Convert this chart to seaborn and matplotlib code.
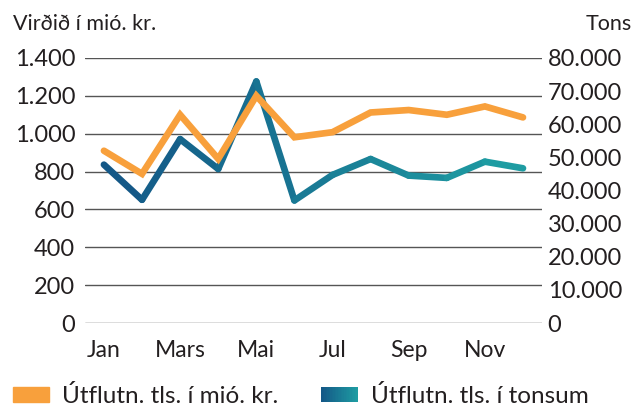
import numpy as np
import pandas as pd
import matplotlib
matplotlib.use("Agg")
import matplotlib.pyplot as plt
import seaborn as sns
from matplotlib.collections import LineCollection
from matplotlib.colors import LinearSegmentedColormap
from matplotlib.patches import Patch, Rectangle
from matplotlib.legend_handler import HandlerBase

# --- gögn ---
months = ["Jan", "Feb", "Mars", "Apr", "Mai", "Jún", "Jul", "Ágú", "Sep", "Okt", "Nov", "Des"]
value_mkr = [910, 788, 1100, 867, 1200, 981, 1008, 1112, 1125, 1100, 1144, 1086]
tons = [47800, 37200, 55500, 46500, 72900, 37000, 44700, 49500, 44500, 43800, 48700, 46700]
left_ticks = [0, 200, 400, 600, 800, 1000, 1200, 1400]
right_ticks = [0, 10000, 20000, 30000, 40000, 50000, 60000, 70000, 80000]
shown_months = ["Jan", "Mars", "Mai", "Jul", "Sep", "Nov"]

ORANGE = "#F8A03C"
BLUE_START = "#145887"
BLUE_END = "#1E9CA2"
TEXT = "#231F20"

sns.set_theme(style="white")
plt.rcParams["font.family"] = ["Lato", "DejaVu Sans"]

cmap = LinearSegmentedColormap.from_list("bl", [BLUE_START, BLUE_END])


class GradientHandler(HandlerBase):
    # litastigi í reit skýringar
    def create_artists(self, legend, orig_handle, xdescent, ydescent,
                       width, height, fontsize, trans):
        n = 24
        out = []
        for i in range(n):
            out.append(Rectangle((-xdescent + i * width / n, -ydescent), width / n * 1.08, height,
                                 facecolor=cmap(i / (n - 1)), edgecolor="none", transform=trans))
        return out


df = pd.DataFrame({"idx": np.arange(len(months)), "manudur": months,
                   "mkr": value_mkr, "tons": tons})

fig = plt.figure(figsize=(6.43, 4.11), dpi=100)
ax = fig.add_axes([0.132, 0.214, 0.711, 0.645])
ax2 = ax.twinx()

# orange á vinstri ás
sns.lineplot(data=df, x="idx", y="mkr", ax=ax, color=ORANGE, linewidth=4.8,
             solid_joinstyle="miter", solid_capstyle="round")

# blá lína með litastiga á hægri ás
pts = np.column_stack([df["idx"], df["tons"]]).reshape(-1, 1, 2)
segs = np.concatenate([pts[:-1], pts[1:]], axis=1)
cols = cmap(np.linspace(0, 1, len(segs)))
lc = LineCollection(segs, colors=cols, linewidths=4.8, capstyle="round", joinstyle="round")
ax2.add_collection(lc)

ax.set_zorder(ax2.get_zorder() + 1)
ax.patch.set_visible(False)

ax.set_xlim(-0.5, len(months) - 0.5)
ax.set_ylim(0, 1400)
ax2.set_ylim(0, 80000)

ax2.set_yticks(right_ticks)
ax2.set_yticklabels([f"{v:,}".replace(",", ".") for v in right_ticks])
ax.set_yticks(left_ticks)
ax.set_yticklabels([f"{v:,}".replace(",", ".") for v in left_ticks])
ax.set_xticks([months.index(m) for m in shown_months])
ax.set_xticklabels(shown_months)
ax.set_xlabel("")
ax.set_ylabel("")

# gridlínur
ax.grid(False)
for t in left_ticks:
    ax2.axhline(t * 80000 / 1400, color="#555555", linewidth=1.0, zorder=0)

for a in (ax, ax2):
    for s in a.spines.values():
        s.set_visible(False)
    a.tick_params(length=0, labelsize=17, colors=TEXT)
ax.tick_params(axis="y", pad=7)
ax2.tick_params(axis="y", pad=4)
ax.tick_params(axis="x", pad=12, labelsize=16.5)

fig.text(0.02, 0.942, "Virðið í mió. kr.", fontsize=15.5, color=TEXT, ha="left", va="center")
fig.text(0.983, 0.942, "Tons", fontsize=15.5, color=TEXT, ha="right", va="center")

blue_handle = Patch(color=BLUE_START, label="Útflutn. tls. í tonsum")
handles = [Patch(color=ORANGE, label="Útflutn. tls. í mió. kr."), blue_handle]
fig.legend(handles=handles, loc="center left", bbox_to_anchor=(0.02, 0.036), ncol=2,
           frameon=False, fontsize=17.5, handlelength=1.5, handleheight=0.54,
           columnspacing=1.75, handletextpad=0.54, borderpad=0, borderaxespad=0,
           labelcolor=TEXT, handler_map={blue_handle: GradientHandler()})

fig.savefig("out.png", dpi=100)
